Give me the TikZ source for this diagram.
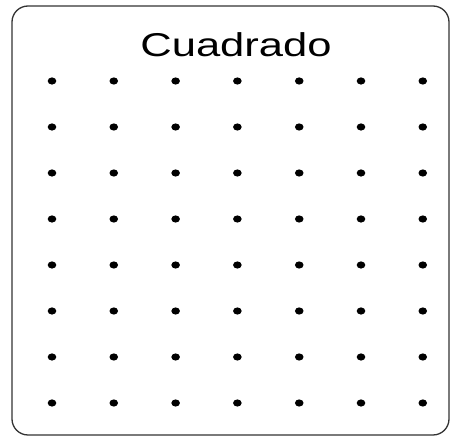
\documentclass[tikz,border=0pt]{standalone}
\usepackage{fontspec}
\setmainfont{Liberation Sans}
\usepackage{tikz}

\begin{document}
\begin{tikzpicture}[x=1pt,y=-1pt]
            \useasboundingbox (0,0) rectangle (451,438);
            % frame
            \draw [black!80, line width=1.3pt, rounded corners=16pt] (12,6) rectangle (449,435);
            % title
            \node [xscale=1.32] (title) at (236,45) {\fontsize{33}{35}\selectfont Cuadrado};
            % dots
            \foreach \i in {0,...,6}{
                \foreach \j in {0,...,7}{
                    \fill [black] (52+61.8*\i,81+46*\j) ellipse [x radius=4.3, y radius=3.6];
                }
            }
\end{tikzpicture}
\end{document}
